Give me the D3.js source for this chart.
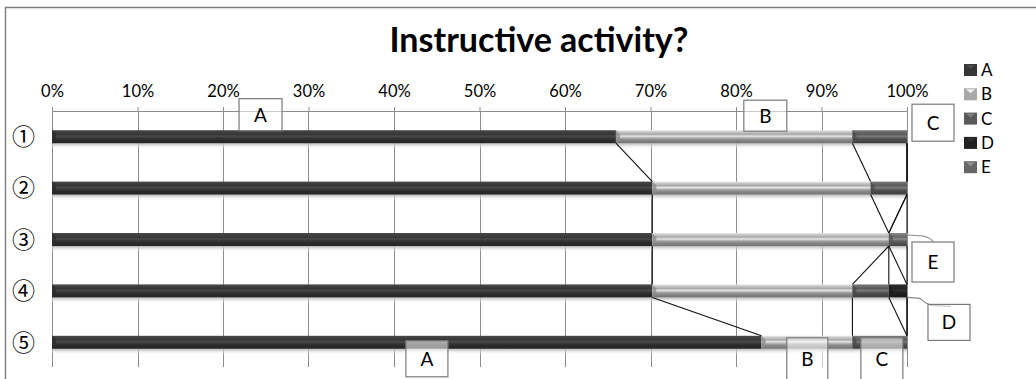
<!DOCTYPE html>
<html><head><meta charset="utf-8">
<script src="https://cdn.jsdelivr.net/npm/d3@7"></script>
<style>
html,body{margin:0;padding:0;background:#fff;}
svg{display:block;}
</style></head>
<body>
<script>
// ---- data ----
const title = "Instructive activity?";
const categories = ["①","②","③","④","⑤"];
const seriesNames = ["A","B","C","D","E"];
const seriesA = [31,33,33,33,39];
const seriesB = [13,12,13,11,5];
const seriesC = [3,2,0,2,3];
const seriesD = [0,0,0,1,0];
const seriesE = [0,0,1,0,0];
const tickValues = [0,0.1,0.2,0.3,0.4,0.5,0.6,0.7,0.8,0.9,1];

const seriesValues = [seriesA, seriesB, seriesC, seriesD, seriesE];
const rows = categories.map((c,i)=>{
  const o = {cat:c};
  seriesNames.forEach((s,k)=>o[s]=seriesValues[k][i]);
  return o;
});

const W=1036,H=379;
const svg=d3.select("body").append("svg").attr("width",W).attr("height",H);
const FONT="Lato, 'Open Sans', sans-serif";

const x=d3.scaleLinear().domain([0,1]).range([52,907]);
const y=d3.scaleBand().domain(categories).range([111,368]).paddingInner(0.747).paddingOuter(0.3735);
const bw=y.bandwidth();

const colors={A:"#363636",B:"#a8a8a8",C:"#5a5a5a",D:"#222222",E:"#666666"};

// gradients
const defs=svg.append("defs");
seriesNames.forEach(s=>{
  const c=d3.color(colors[s]);
  const g=defs.append("linearGradient").attr("id","g"+s).attr("x1",0).attr("x2",0).attr("y1",0).attr("y2",1);
  const stops=[[0,c.brighter(0.9)],[0.15,c.brighter(0.45)],[0.32,c],[0.46,c.brighter(0.9)],[0.58,c.brighter(0.15)],[0.72,c.darker(0.5)],[1,c.darker(1.1)]];
  stops.forEach(([o,col])=>g.append("stop").attr("offset",o).attr("stop-color",col.formatHex()));
});
const sh=defs.append("linearGradient").attr("id","shadow").attr("x1",0).attr("x2",0).attr("y1",0).attr("y2",1);
sh.append("stop").attr("offset",0).attr("stop-color","#b5b5b5");
sh.append("stop").attr("offset",1).attr("stop-color","#ffffff").attr("stop-opacity",0);

// frame
svg.append("line").attr("x1",5).attr("x2",W).attr("y1",7.5).attr("y2",7.5).attr("stroke","#808080").attr("stroke-width",1.5);
svg.append("line").attr("x1",5.5).attr("x2",5.5).attr("y1",7).attr("y2",H).attr("stroke","#808080").attr("stroke-width",1.5);

// title
svg.append("text").attr("x",539).attr("y",52).attr("text-anchor","middle")
  .attr("font-family",FONT).attr("font-weight","bold").attr("font-size",34).text(title);

// gridlines + axis
const axis=d3.axisTop(x).tickValues(tickValues).tickFormat(d3.format(".0%")).tickSize(4).tickSizeOuter(0);
const gAx=svg.append("g").attr("transform","translate(0,111)").call(axis);
gAx.select(".domain").attr("stroke","#8c8c8c");
gAx.selectAll(".tick line").attr("stroke","#8c8c8c");
gAx.selectAll(".tick text").attr("font-family",FONT).attr("font-size",16.5).attr("fill","#000").attr("dy","-0.4em");
svg.append("g").selectAll("line").data(tickValues).join("line")
  .attr("x1",d=>Math.round(x(d))+0.5).attr("x2",d=>Math.round(x(d))+0.5).attr("y1",111).attr("y2",367)
  .attr("stroke","#8c8c8c").attr("stroke-width",1);

// category labels
svg.append("g").selectAll("text").data(categories).join("text")
  .attr("x",23.5).attr("y",d=>y(d)+bw/2).attr("dy","0.36em").attr("text-anchor","middle")
  .attr("font-family","'Noto Sans CJK JP', 'DejaVu Sans', sans-serif").attr("font-size",23).text(d=>d);

// stack
const stack=d3.stack().keys(seriesNames).offset(d3.stackOffsetExpand);
const stacked=stack(rows);

// shadows under bars
svg.append("g").selectAll("rect").data(categories).join("rect")
  .attr("x",x(0)).attr("width",x(1)-x(0)).attr("y",d=>y(d)+bw).attr("height",6).attr("fill","url(#shadow)");

// bars
const gBars=svg.append("g");
stacked.forEach(layer=>{
  gBars.append("g").selectAll("rect").data(layer).join("rect")
    .attr("x",d=>x(d[0])).attr("width",d=>Math.max(0,x(d[1])-x(d[0])))
    .attr("y",d=>y(d.data.cat)).attr("height",bw)
    .attr("fill","url(#g"+layer.key+")");
  // bevel notch at left end of each segment
  gBars.append("g").selectAll("path").data(layer.filter(d=>x(d[1])-x(d[0])>3)).join("path")
    .attr("d",d=>{const x0=x(d[0]),y0=y(d.data.cat);return `M${x0},${y0}L${x0+4},${y0+4}L${x0+4},${y0+bw-3}L${x0},${y0+bw}Z`;})
    .attr("fill",d3.color(colors[layer.key]).darker(0.5).formatHex()).attr("opacity",0.8);
});

// series lines
const gSL=svg.append("g");
stacked.forEach(layer=>{
  for(let i=0;i<layer.length-1;i++){
    const a=layer[i],b=layer[i+1];
    gSL.append("line")
      .attr("x1",x(a[1])).attr("y1",y(a.data.cat)+bw)
      .attr("x2",x(b[1])).attr("y2",y(b.data.cat))
      .attr("stroke","#111").attr("stroke-width",1.1);
  }
});

// legend
const lg=svg.append("g").selectAll("g").data(seriesNames).join("g")
  .attr("transform",(d,i)=>`translate(964,${70+i*24.3})`);
lg.append("rect").attr("x",0).attr("y",-6).attr("width",13).attr("height",12).attr("fill",d=>colors[d]);
lg.append("path").attr("d","M2,-5L11,-5L6.5,-1Z").attr("fill",d=>d3.color(colors[d]).brighter(1.0).formatHex());
lg.append("text").attr("x",17).attr("y",0).attr("dy","0.36em").attr("font-family",FONT).attr("font-size",17).text(d=>d);

// annotation leader lines
const row3=stacked[4][2], row4=stacked[4][3];
svg.append("path")
  .attr("d",`M${x(row3[1])+1},${y(categories[2])+2} L${x(row3[1])+16},${y(categories[2])+3} Q${x(row3[1])+25},${y(categories[2])+5} ${x(row3[1])+27},${y(categories[2])+10}`)
  .attr("fill","none").attr("stroke","#8a8a8a").attr("stroke-width",1.2);
svg.append("path")
  .attr("d",`M${x(row4[1])+1},${y(categories[3])+bw} L${x(row4[1])+13},${y(categories[3])+bw+1} Q${x(row4[1])+18},${y(categories[3])+bw+6} ${x(row4[1])+24},${y(categories[3])+bw+8} L${x(row4[1])+44},${y(categories[3])+bw+9}`)
  .attr("fill","none").attr("stroke","#8a8a8a").attr("stroke-width",1.2);

// annotation boxes: [text, x-center in data units, row index, y offset from bar top, width, height]
const annotations=[
  ["A",0.2439,0,-31.5,43,32],
  ["B",0.8343,0,-30,43,31],
  ["C",1.0304,0,-26,42,37],
  ["E",1.0304,2,9,42,40],
  ["D",1.0491,3,20,42,36],
  ["A",0.4385,4,5,42,36],
  ["B",0.8834,4,2,41,42],
  ["C",0.9706,4,2,42,42]
];
const ga=svg.append("g").selectAll("g").data(annotations).join("g")
  .attr("transform",d=>`translate(${x(d[1])},${y(categories[d[2]])+d[3]})`);
ga.append("rect").attr("x",d=>-d[4]/2).attr("y",0).attr("width",d=>d[4]).attr("height",d=>d[5])
  .attr("fill","#fff").attr("fill-opacity",0.55).attr("stroke","#7a7a7a").attr("stroke-width",1.2);
ga.append("text").attr("x",0).attr("y",d=>d[5]/2).attr("dy","0.36em").attr("text-anchor","middle")
  .attr("font-family",FONT).attr("font-size",19).text(d=>d[0]);
</script>
</body></html>
